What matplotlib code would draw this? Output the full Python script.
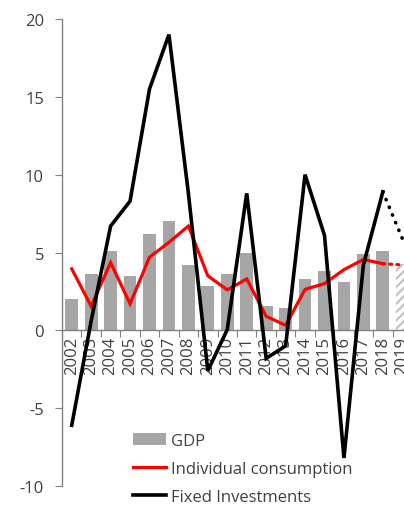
import numpy as np
import matplotlib
matplotlib.use('Agg')
import matplotlib.pyplot as plt

plt.rcParams['font.family'] = ['Open Sans', 'DejaVu Sans']
plt.rcParams['hatch.linewidth'] = 1.5
plt.rcParams['axes.unicode_minus'] = False

years = [str(y) for y in range(2002, 2020)]
gdp = [2.0, 3.6, 5.1, 3.5, 6.2, 7.0, 4.2, 2.85, 3.6, 5.0, 1.58, 1.43, 3.3, 3.8, 3.1, 4.9, 5.1, 4.25]
consumption = [3.95, 1.55, 4.35, 1.7, 4.7, 5.65, 6.7, 3.5, 2.6, 3.3, 0.9, 0.32, 2.63, 3.0, 3.9, 4.55, 4.28, 4.2]
investments = [-6.1, 0.6, 6.7, 8.3, 15.5, 19.0, 8.8, -2.6, 0.05, 8.8, -1.8, -1.0, 10.0, 6.1, -8.2, 4.2, 8.9, 5.9]
n_fc = 1  # last value is forecast

txt = '#404040'
gray = '#a6a6a6'

fig = plt.figure(figsize=(4.04, 5.06), dpi=100)
ax = fig.add_axes([62 / 404, 1 - 487 / 506, 350 / 404, 467 / 506])

x = np.arange(len(years))
k = len(years) - n_fc
b = ax.bar(x[:k], gdp[:k], width=0.66, color=gray, zorder=1)
ax.bar(x[k:], gdp[k:], width=0.66, color='white', edgecolor='#c0c0c0',
       hatch='////', linewidth=0, zorder=1)

l1, = ax.plot(x[:k], consumption[:k], color='#ff0000', lw=2.3, zorder=3,
              solid_joinstyle='miter')
ax.plot(x[k - 1:], consumption[k - 1:], color='#ff0000', lw=2.3, zorder=3,
        dashes=(0.6, 1.6), dash_capstyle='round')
l2, = ax.plot(x[:k], investments[:k], color='black', lw=2.6, zorder=4,
              solid_joinstyle='miter')
ax.plot(x[k - 1:], investments[k - 1:], color='black', lw=2.6, zorder=4,
        dashes=(0.1, 2.2), dash_capstyle='round')

ax.set_xlim(-0.5, len(years) - 0.5)
ax.set_ylim(-10, 20)
ax.set_yticks(np.arange(-10, 21, 5))

ax.spines['top'].set_visible(False)
ax.spines['right'].set_visible(False)
ax.spines['bottom'].set_position(('data', 0))
for s in ['left', 'bottom']:
    ax.spines[s].set_color('#808080')
    ax.spines[s].set_linewidth(1)

ax.set_xticks(np.arange(-0.5, len(years), 1))
ax.set_xticklabels([])
ax.set_xticks(x, minor=True)
ax.set_xticklabels(years, minor=True, rotation=90, va='top', ha='center')
ax.tick_params(axis='x', which='major', direction='out', length=5, color='#808080')
ax.tick_params(axis='x', which='minor', length=0, pad=4, labelsize=12, labelcolor=txt)
ax.tick_params(axis='y', direction='out', length=5, color='#808080',
               labelsize=12, labelcolor=txt, pad=8)

leg = fig.legend([b, l1, l2], ['GDP', 'Individual consumption', 'Fixed Investments'],
                 loc='upper left', bbox_to_anchor=(133 / 404, 1 - 434 / 506),
                 frameon=False, fontsize=12, handlelength=2.0, handletextpad=0.3,
                 labelspacing=0.72, borderpad=0, borderaxespad=0)
for t in leg.get_texts():
    t.set_color(txt)

fig.savefig('out.png', dpi=100)
